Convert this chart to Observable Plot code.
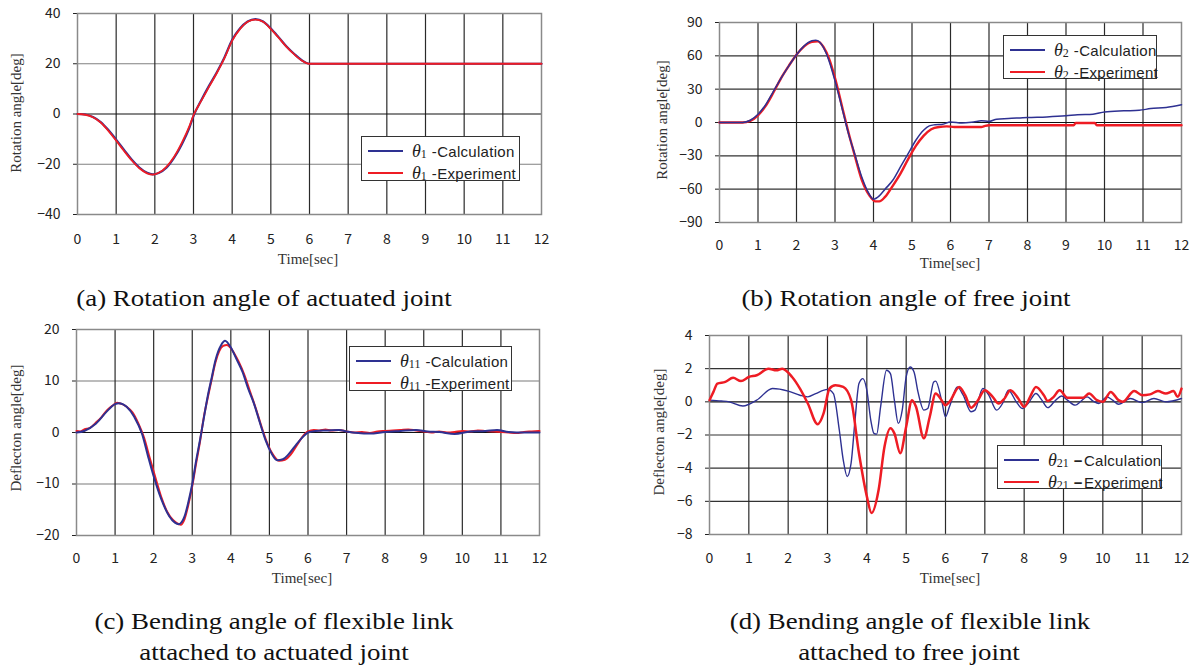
<!DOCTYPE html>
<html><head><meta charset="utf-8">
<script src="https://cdn.jsdelivr.net/npm/d3@7"></script>
<script src="https://cdn.jsdelivr.net/npm/@observablehq/plot@0.6"></script>
<style>
body{margin:0;background:#fff;}
#root{position:relative;width:1194px;height:669px;overflow:hidden;background:#fff;}
.pn{position:absolute;}
.cap{position:absolute;font-family:"Liberation Serif",serif;font-size:24px;color:#111;white-space:nowrap;transform:translate(-50%,-50%) scaleX(1.12);line-height:1;}
.xt{position:absolute;font-family:"Liberation Serif",serif;font-size:15px;color:#333;white-space:nowrap;transform:translate(-50%,-50%);line-height:1;}
.yt{position:absolute;font-family:"Liberation Serif",serif;font-size:15px;color:#333;white-space:nowrap;transform:translate(-50%,-50%) rotate(-90deg);line-height:1;}
.leg{position:absolute;border:1.3px solid #333;background:#fff;box-sizing:border-box;}
.row{position:absolute;left:0;height:22px;display:flex;align-items:center;white-space:nowrap;}
.sw{display:inline-block;width:35px;height:2px;margin-left:6px;margin-right:9px;}
.th{font-family:"Liberation Serif",serif;font-style:italic;font-size:18px;color:#222;}
.sub{font-family:"Liberation Serif",serif;font-size:12px;color:#222;position:relative;top:3px;margin-right:5px;}
.txt{font-family:"Liberation Sans",sans-serif;font-size:15px;color:#222;letter-spacing:0.3px;}
</style></head>
<body><div id="root"></div>
<script>
// ---------- data ----------
const xTicks = [0,1,2,3,4,5,6,7,8,9,10,11,12];
const yTicksA = [-40,-20,0,20,40];
const yTicksB = [-90,-60,-30,0,30,60,90];
const yTicksC = [-20,-10,0,10,20];
const yTicksD = [-8,-6,-4,-2,0,2,4];

// (a) theta1
const tA    = [0,0.2,0.4,0.6,0.8,1.0,1.2,1.4,1.6,1.8,1.95,2.1,2.3,2.5,2.7,2.9,3.0,3.2,3.4,3.6,3.8,4.0,4.2,4.4,4.6,4.8,5.0,5.2,5.4,5.6,5.8,6.0,7,8,9,10,11,12];
const calcA = [0,-0.2,-1.2,-3.2,-6.4,-10.2,-14.2,-18.1,-21.3,-23.4,-24,-23.5,-21.4,-17.4,-12,-5.2,-0.8,5.5,11.2,16.5,22.5,29.5,34,36.8,37.8,36.8,34,30.6,27,24,21.4,20,20,20,20,20,20,20];
const expA  = [0,-0.3,-1.3,-3.4,-6.7,-10.6,-14.6,-18.4,-21.6,-23.6,-24.1,-23.4,-21,-17,-11.4,-4.6,-0.5,5.2,10.8,16.2,22.2,29.2,33.8,36.7,37.6,36.7,33.8,30.4,26.8,23.8,21.3,20,20,20,20,20,20,20];

// (b) theta2
const tCalcB = [0,0.6,0.8,1.0,1.2,1.4,1.6,1.8,2.0,2.2,2.4,2.5,2.6,2.7,2.85,3.0,3.2,3.35,3.5,3.7,3.85,4.0,4.15,4.3,4.5,4.7,4.9,5.1,5.3,5.45,5.6,5.8,6.0,6.3,6.6,6.8,7.0,7.2,7.5,8.0,8.5,9.0,9.3,9.7,10.0,10.5,10.9,11.2,11.6,12];
const calcB  = [0,0,2,7.5,16,28,40,51,61,69,73.5,74,72.5,67.5,55,37.5,10.5,-10,-27,-49.5,-62,-69,-66,-60,-52,-40,-28,-16,-7,-3,-2,-1.5,0.5,-0.5,0.5,1.5,1,3,3.5,4.5,5,6,7,7.5,9.5,10.5,11,12.5,13.5,16];
const tExpB  = [0,0.6,0.8,1.0,1.2,1.4,1.6,1.8,2.0,2.2,2.4,2.55,2.7,2.85,3.0,3.2,3.35,3.5,3.7,3.9,4.05,4.15,4.3,4.5,4.7,4.9,5.1,5.3,5.5,5.7,5.9,6.1,6.5,6.8,6.9,7.0,8.0,9.0,9.2,9.25,9.75,9.8,10.5,11.5,12];
const expB   = [0,0,1.5,6.5,15,27,40,51,61,68.5,72.5,73,68,57,40,12,-9,-28,-52,-66,-71,-71,-67,-57,-46,-33,-21,-12,-6,-4,-3.5,-4,-4,-4,-3,-2.5,-2.5,-2.5,-2.5,-0.5,-0.5,-2.5,-2.5,-2.5,-2.5];

// (c) theta11
const tCalcC = [0,0.2,0.5,0.8,1.0,1.1,1.3,1.5,1.7,1.85,2.0,2.2,2.4,2.55,2.65,2.8,2.9,3.0,3.1,3.2,3.3,3.4,3.5,3.6,3.75,3.85,4.0,4.15,4.3,4.45,4.6,4.75,4.9,5.05,5.2,5.35,5.5,5.7,5.85,6.0,6.2,6.5,6.8,7.0,7.3,7.6,8.0,8.4,8.8,9.1,9.4,9.8,10.2,10.6,10.9,11.2,11.6,12];
const calcC  = [0,0.3,1.7,4.2,5.5,5.7,5.0,3.0,-0.3,-4.5,-8.5,-13,-16.2,-17.5,-17.8,-16.3,-13.5,-10,-5.5,-1.5,2.8,7,10.5,14,17,17.8,16.5,14.2,11.8,8.5,5.6,2,-1.5,-4,-5.4,-5.2,-4.2,-2.3,-1,0,0.3,0.4,0.5,0.2,-0.1,-0.2,0.1,0.3,0.5,0.2,0.1,-0.3,0.2,0.3,0.5,0.1,0,0];
const tExpC  = [0,0.1,0.2,0.35,0.5,0.65,0.8,0.95,1.05,1.15,1.3,1.45,1.6,1.75,1.9,2.05,2.2,2.35,2.5,2.6,2.7,2.8,2.9,3.0,3.1,3.2,3.3,3.4,3.5,3.6,3.7,3.8,3.9,4.0,4.1,4.2,4.35,4.5,4.65,4.8,4.95,5.1,5.25,5.4,5.55,5.7,5.85,6.0,6.15,6.3,6.45,6.6,6.8,7.0,7.2,7.4,7.6,7.8,8.0,8.2,8.4,8.6,8.8,9.0,9.2,9.4,9.6,9.8,10.0,10.2,10.4,10.6,10.8,11.0,11.2,11.4,11.6,11.8,12];
const expC   = [0.3,0.2,0.6,0.9,1.9,3.0,4.4,5.3,5.8,5.6,5.0,3.9,1.8,-1.0,-5.0,-8.9,-12.6,-15.4,-17.0,-17.6,-17.9,-16.8,-14.0,-10.4,-6.0,-1.8,3.0,6.7,10.2,13.6,15.8,16.8,17.0,16.4,15.2,13.8,11.2,7.9,4.6,1.0,-2.2,-4.4,-5.5,-5.3,-4.3,-2.6,-0.9,0.2,0.5,0.4,0.6,0.4,0.5,0.2,0.0,0.1,-0.1,0.2,0.3,0.4,0.5,0.6,0.4,0.2,0.0,0.2,0.0,0.1,0.3,0.2,0.4,0.3,0.2,0.1,0.0,-0.1,0.1,0.2,0.3];

// (d) theta21
const tCalcD = [0,0.3,0.5,0.85,1.2,1.6,2.0,2.3,2.5,2.7,3.0,3.15,3.3,3.4,3.5,3.6,3.7,3.8,3.9,4.0,4.1,4.18,4.25,4.35,4.5,4.6,4.7,4.8,4.9,5.0,5.1,5.2,5.3,5.45,5.55,5.7,5.75,5.9,6.0,6.1,6.3,6.45,6.65,6.75,6.95,7.1,7.3,7.45,7.6,7.8,7.95,8.1,8.3,8.45,8.6,8.8,8.95,9.1,9.3,9.45,9.6,9.75,9.9,10.1,10.25,10.4,10.7,11.0,11.3,11.6,12];
const calcD  = [0.1,0.05,0,-0.25,0.1,0.8,0.65,0.4,0.3,0.5,0.75,0.5,-1.7,-3.5,-4.5,-3.7,-1.1,1.1,1.4,0.7,-1.1,-1.9,-1.95,-0.3,1.9,1.7,0.1,-1.3,-0.5,1.5,2.1,1.8,0.6,-0.5,-0.4,1.2,1.25,0.1,-0.9,-0.3,0.9,0.4,-0.6,-0.5,0.8,0.4,-0.5,-0.1,0.7,0.0,-0.4,-0.1,0.5,0.1,-0.35,0.1,0.35,0.1,-0.2,0.05,0.3,0.05,-0.1,0.3,0.1,-0.15,0.2,-0.05,0.2,0,0.2];
const tExpD  = [0,0.1,0.2,0.4,0.6,0.8,1.0,1.2,1.5,1.7,1.85,2.1,2.3,2.5,2.75,2.9,3.05,3.2,3.4,3.6,3.8,4.0,4.12,4.3,4.45,4.6,4.7,4.85,5.0,5.15,5.25,5.45,5.6,5.75,5.9,6.0,6.1,6.35,6.5,6.65,6.8,7.0,7.2,7.35,7.5,7.65,7.85,8.0,8.15,8.3,8.5,8.6,8.75,8.9,9.1,9.5,9.65,9.85,10.0,10.2,10.4,10.5,10.8,11.0,11.2,11.4,11.6,11.8,11.9,12];
const expD   = [0.1,0.6,1.1,1.2,1.45,1.25,1.5,1.6,2.0,1.9,2.0,1.5,0.8,-0.1,-1.35,-0.7,0.8,1.0,0.9,0.1,-3.1,-5.7,-6.7,-5.3,-2.7,-1.6,-1.9,-3.1,-1.5,0.1,-0.3,-2.2,-0.9,0.5,0.1,-0.2,0.0,0.9,0.4,-0.35,0.0,0.7,0.3,-0.1,0.2,0.7,0.2,-0.3,0.3,0.9,0.4,0.05,0.3,0.7,0.25,0.25,0.5,0.1,0.0,0.6,0.1,0.0,0.65,0.4,0.45,0.65,0.5,0.65,0.3,0.8];

const BLUE = "#2e3192", RED = "#ee1c24";
const fmt = d => d < 0 ? "\u2212" + Math.abs(d) : String(d);
const zip = (t, v) => t.map((x, i) => ({t: x, v: v[i]}));

const root = document.getElementById("root");

function panel(o) {
  const [fx0, fy0, fx1, fy1] = o.frame;
  const calcLine = () => Plot.line(zip(o.tCalc, o.calc), {x: "t", y: "v", stroke: BLUE, strokeWidth: o.wCalc, curve: "monotone-x"});
  const svg = Plot.plot({
    width: o.w, height: o.h,
    marginLeft: fx0 - o.left, marginTop: fy0 - o.top,
    marginRight: o.left + o.w - fx1, marginBottom: o.top + o.h - fy1,
    style: {fontFamily: "'Noto Sans CJK JP', 'Liberation Sans', sans-serif", fontSize: "14px", color: "#222", background: "transparent", overflow: "visible"},
    x: {domain: [0, 12], ticks: xTicks, tickSize: 0, tickPadding: o.xPad, label: null, tickFormat: fmt},
    y: {domain: o.yDomain, ticks: o.yTicks, tickSize: 4, tickPadding: 13, label: null, tickFormat: fmt},
    marks: [
      Plot.ruleY(o.yTicks.filter(d => d !== 0), {stroke: o.hColor, strokeWidth: 1.2}),
      Plot.ruleX(xTicks.slice(1, -1), {stroke: "#2a2a2a", strokeWidth: 1.2}),
      Plot.ruleY([0], {stroke: "#111", strokeWidth: 1.2}),
      Plot.frame({stroke: "#8a8a8a", strokeWidth: 1.5}),
      ...(o.calcOnTop ? [] : [calcLine()]),
      Plot.line(zip(o.tExp, o.exp), {x: "t", y: "v", stroke: RED, strokeWidth: o.wExp, curve: "monotone-x"}),
      ...(o.calcOnTop ? [calcLine()] : [])
    ]
  });
  const wrap = document.createElement("div");
  wrap.className = "pn";
  wrap.style.left = o.left + "px"; wrap.style.top = o.top + "px";
  wrap.appendChild(svg);
  root.appendChild(wrap);
}

function label(cls, text, x, y) {
  const d = document.createElement("div");
  d.className = cls; d.textContent = text;
  d.style.left = x + "px"; d.style.top = y + "px";
  root.appendChild(d);
}

function legend(x, y, w, h, sub, dash, dashStyle) {
  const L = document.createElement("div");
  L.className = "leg";
  L.style.left = x + "px"; L.style.top = y + "px"; L.style.width = w + "px"; L.style.height = h + "px";
  [["Calculation", BLUE, 4], ["Experiment", RED, 26]].forEach(([name, col, top]) => {
    const r = document.createElement("div");
    r.className = "row"; r.style.top = (top - 1) + "px";
    r.innerHTML = `<span class="sw" style="background:${col}"></span><span class="th">\u03b8</span><span class="sub">${sub}</span><span class="txt"><span style="${dashStyle}">${dash}</span>${name}</span>`;
    L.appendChild(r);
  });
  root.appendChild(L);
}

panel({left: 0, top: 0, w: 560, h: 270, frame: [77, 13, 541, 214], xPad: 20, hColor: "#808080",
  yDomain: [-40, 40], yTicks: yTicksA, tCalc: tA, calc: calcA, tExp: tA, exp: expA, wCalc: 2.2, wExp: 1.8, calcOnTop: false});
panel({left: 600, top: 0, w: 594, h: 270, frame: [719, 22, 1181, 222], xPad: 18, hColor: "#333333",
  yDomain: [-90, 90], yTicks: yTicksB, tCalc: tCalcB, calc: calcB, tExp: tExpB, exp: expB, wCalc: 1.5, wExp: 2.4, calcOnTop: true});
panel({left: 0, top: 318, w: 560, h: 270, frame: [76, 329, 539, 535], xPad: 18, hColor: "#7a7a7a",
  yDomain: [-20, 20], yTicks: yTicksC, tCalc: tCalcC, calc: calcC, tExp: tExpC, exp: expC, wCalc: 2, wExp: 2, calcOnTop: true});
panel({left: 600, top: 318, w: 594, h: 270, frame: [709, 335, 1181, 534], xPad: 19, hColor: "#333333",
  yDomain: [-8, 4], yTicks: yTicksD, tCalc: tCalcD, calc: calcD, tExp: tExpD, exp: expD, wCalc: 1.4, wExp: 2.5, calcOnTop: false});

// axis titles
label("xt", "Time[sec]", 308, 259);
label("xt", "Time[sec]", 950, 263);
label("xt", "Time[sec]", 302, 578);
label("xt", "Time[sec]", 950, 578);
label("yt", "Rotation angle[deg]", 16, 113);
label("yt", "Rotation angle[deg]", 662, 120);
label("yt", "Deflecton angle[deg]", 16, 428);
label("yt", "Deflecton angle[deg]", 659, 432);

// legends
legend(361, 136, 159, 45, "1", "-", "");
legend(1003, 35, 154, 44, "2", "-", "");
legend(349, 346, 163, 45, "11", "-", "");
legend(997, 445, 165, 44, "21", "\u2212", "font-weight:bold;margin-right:1px");

// captions
label("cap", "(a) Rotation angle of actuated joint", 264, 298);
label("cap", "(b) Rotation angle of free joint", 906, 298);
label("cap", "(c) Bending angle of flexible link", 274, 621);
label("cap", "attached to actuated joint", 274, 652);
label("cap", "(d) Bending angle of flexible link", 910, 621);
label("cap", "attached to free joint", 909, 652);
</script>
</body></html>
